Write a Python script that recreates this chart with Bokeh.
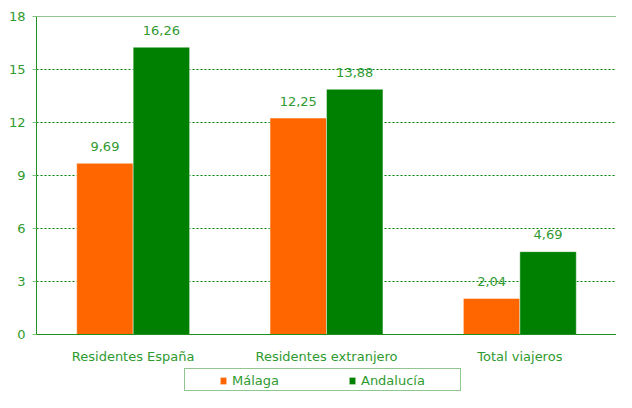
from bokeh.plotting import figure
from bokeh.models import ColumnDataSource, FactorRange, Legend, LegendItem, Span, FixedTicker, Range1d
from bokeh.transform import dodge
from bokeh.core.properties import value
from bokeh.embed import file_html
from bokeh.resources import INLINE

categories = ["Residentes España", "Residentes extranjero", "Total viajeros"]
malaga = [9.69, 12.25, 2.04]
andalucia = [16.26, 13.88, 4.69]
series_names = ["Málaga", "Andalucía"]
y_ticks = [0, 3, 6, 9, 12, 15, 18]

ORANGE = "#FF6600"
GREEN = "#008000"
TEXT = "#2f9a2f"
AXIS = "#1f8f1f"
FONT = "DejaVu Sans"

# layout (pixels)
W, H = 616, 392
TOP, LEFT = 16, 36
ZERO_PX = 334          # pixel row of value 0
y_max = y_ticks[-1]
px_per_unit = (ZERO_PX - TOP) / y_max
y_min = -(H - ZERO_PX) / px_per_unit


def fmt(v):
    return f"{v:.2f}".replace(".", ",")


src = ColumnDataSource(dict(
    cat=categories,
    malaga=malaga,
    andalucia=andalucia,
    mal_lbl=[fmt(v) for v in malaga],
    and_lbl=[fmt(v) for v in andalucia],
))

p = figure(
    width=W, height=H,
    x_range=FactorRange(*categories, range_padding=0),
    y_range=Range1d(y_min, y_max),
    output_backend="svg", toolbar_location=None,
    min_border_left=LEFT, min_border_top=TOP, min_border_right=0, min_border_bottom=0,
)
p.outline_line_color = None
p.background_fill_color = "white"
p.border_fill_color = "white"

bw = 0.292
r_m = p.vbar(x=dodge("cat", -bw / 2, range=p.x_range), top="malaga", bottom=0, width=bw, source=src,
             fill_color=ORANGE, line_color="white", line_alpha=0.45, line_width=1)
r_a = p.vbar(x=dodge("cat", bw / 2, range=p.x_range), top="andalucia", bottom=0, width=bw, source=src,
             fill_color=GREEN, line_color="white", line_alpha=0.45, line_width=1)

lbl_kw = dict(text_align="center", text_baseline="alphabetic", y_offset=-17,
              text_font=value(FONT), text_font_size="13px", text_color=TEXT)
p.text(x=dodge("cat", -bw / 2, range=p.x_range), y="malaga", text="mal_lbl", source=src, **lbl_kw)
p.text(x=dodge("cat", bw / 2, range=p.x_range), y="andalucia", text="and_lbl", source=src, **lbl_kw)

# axes
p.yaxis.ticker = FixedTicker(ticks=y_ticks)
p.yaxis.bounds = (0, y_max)
p.yaxis.axis_line_color = AXIS
p.yaxis.major_tick_out = 4
p.yaxis.major_tick_in = 0
p.yaxis.major_tick_line_color = "#7cc47c"
p.yaxis.minor_tick_line_color = None
p.yaxis.major_label_standoff = 7
for ax in (p.xaxis, p.yaxis):
    ax.major_label_text_font = FONT
    ax.major_label_text_font_size = "13px"
    ax.major_label_text_color = TEXT
    ax.major_label_text_font_style = "normal"

p.xaxis.fixed_location = 0
p.xaxis.axis_line_color = AXIS
p.xaxis.major_tick_line_color = None
p.xaxis.minor_tick_line_color = None
p.xaxis.major_label_standoff = 8

p.xgrid.grid_line_color = None
p.ygrid.ticker = FixedTicker(ticks=y_ticks)
p.ygrid.grid_line_color = GREEN
p.ygrid.grid_line_dash = "2 2"
p.ygrid.grid_line_width = 1

p.add_layout(Span(location=y_max, dimension="width", line_color=AXIS, line_width=1, level="underlay"))

# legend frame (one invisible item sets the box size)
spacer_src = ColumnDataSource(dict(x=[], top=[]))
ghost = p.vbar(x="x", top="top", width=0.1, source=spacer_src, fill_alpha=0, line_alpha=0)
box = Legend(items=[LegendItem(label=" ", renderers=[ghost])],
             location=(148, 1), orientation="horizontal", padding=3, margin=0,
             glyph_width=8, glyph_height=9, label_standoff=5, label_height=15, label_width=256,
             border_line_color=AXIS, border_line_width=1, background_fill_color="white",
             label_text_font=FONT, label_text_font_size="13px", label_text_color=TEXT)
p.add_layout(box)

# legend entries
leg = Legend(items=[LegendItem(label=series_names[0], renderers=[r_m]),
                    LegendItem(label=series_names[1], renderers=[r_a])],
             location=(183, 4), orientation="horizontal", padding=0, margin=0, spacing=69,
             glyph_width=8, glyph_height=9, label_standoff=5, label_height=15, label_width=0,
             border_line_alpha=0, background_fill_alpha=0,
             label_text_font=FONT, label_text_font_size="13px", label_text_color=TEXT)
p.add_layout(leg)

open("out.html", "w").write(file_html(p, INLINE))
